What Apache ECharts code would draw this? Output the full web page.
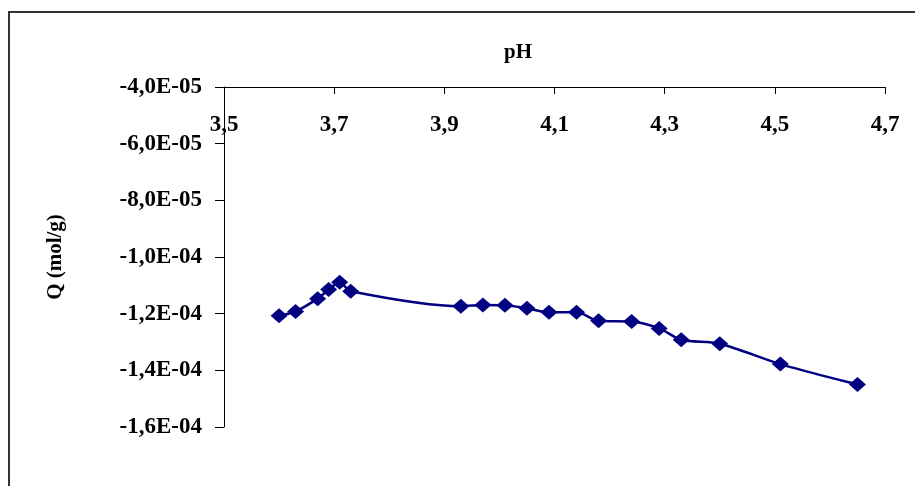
<!DOCTYPE html>
<html>
<head>
<meta charset="utf-8">
<script src="https://cdn.jsdelivr.net/npm/echarts@6/dist/echarts.min.js"></script>
<style>html,body{margin:0;padding:0;background:#fff}#c{width:915px;height:486px}</style>
</head>
<body>
<div id="c"></div>
<script>
var pH = [3.60, 3.63, 3.67, 3.69, 3.71, 3.73, 3.93, 3.97, 4.01, 4.05, 4.09, 4.14, 4.18, 4.24, 4.29, 4.33, 4.40, 4.51, 4.65];
var Q = [-1.207e-4, -1.192e-4, -1.147e-4, -1.115e-4, -1.089e-4, -1.121e-4, -1.174e-4, -1.169e-4, -1.170e-4, -1.181e-4, -1.195e-4, -1.195e-4, -1.225e-4, -1.228e-4, -1.252e-4, -1.292e-4, -1.306e-4, -1.378e-4, -1.450e-4];
var xTicks = [3.5, 3.7, 3.9, 4.1, 4.3, 4.5, 4.7];
var xTickLabels = ['3,5', '3,7', '3,9', '4,1', '4,3', '4,5', '4,7'];
var yTicks = [-4e-5, -6e-5, -8e-5, -1e-4, -1.2e-4, -1.4e-4, -1.6e-4];
var yTickLabels = ['-4,0E-05', '-6,0E-05', '-8,0E-05', '-1,0E-04', '-1,2E-04', '-1,4E-04', '-1,6E-04'];
var xTitle = 'pH';
var yTitle = 'Q (mol/g)';

function nearestLabel(v, ticks, labels) {
  var best = 0, bd = Infinity;
  for (var i = 0; i < ticks.length; i++) {
    var d = Math.abs(ticks[i] - v);
    if (d < bd) { bd = d; best = i; }
  }
  return labels[best];
}

var font = '"Times New Roman", "Liberation Serif", serif';
var chart = echarts.init(document.getElementById('c'), null, {renderer: 'canvas'});
chart.setOption({
  animation: false,
  backgroundColor: '#fff',
  title: {
    text: xTitle,
    left: 513, top: 37, textAlign: 'center',
    textStyle: {fontFamily: font, fontWeight: 'bold', fontSize: 21, color: '#000'}
  },
  graphic: [{
    type: 'rect',
    shape: {x: 9, y: 12, width: 1000, height: 600},
    style: {fill: 'none', stroke: '#333', lineWidth: 2},
    silent: true, z: -1
  }],
  grid: {left: 224, right: 30, top: 87, bottom: 59, containLabel: false},
  xAxis: {
    type: 'value',
    position: 'top',
    min: 3.5, max: 4.7, interval: 0.2,
    axisLine: {show: true, onZero: false, lineStyle: {color: '#000', width: 1}},
    axisTick: {show: true, inside: true, length: 7, lineStyle: {color: '#000'}},
    axisLabel: {
      inside: true, margin: 27,
      fontFamily: font, fontWeight: 'bold', fontSize: 23, color: '#000',
      formatter: function (v) { return nearestLabel(v, xTicks, xTickLabels); }
    },
    splitLine: {show: false}
  },
  yAxis: {
    type: 'value',
    min: -1.6e-4, max: -4e-5, interval: 2e-5,
    name: yTitle,
    nameLocation: 'middle',
    nameGap: 158,
    nameTextStyle: {fontFamily: font, fontWeight: 'bold', fontSize: 21, color: '#000'},
    axisLine: {show: true, onZero: false, lineStyle: {color: '#000', width: 1}},
    axisTick: {show: true, inside: false, length: 9, lineStyle: {color: '#000'}},
    axisLabel: {
      margin: 22,
      fontFamily: font, fontWeight: 'bold', fontSize: 23, color: '#000',
      formatter: function (v) { return nearestLabel(v, yTicks, yTickLabels); }
    },
    splitLine: {show: false}
  },
  series: [{
    type: 'line',
    data: pH.map(function (x, i) { return [x, Q[i]]; }),
    smooth: 0.3,
    symbol: 'diamond',
    symbolSize: [17, 15],
    itemStyle: {color: '#000080'},
    lineStyle: {color: '#000080', width: 2.5}
  }]
});
</script>
</body>
</html>
